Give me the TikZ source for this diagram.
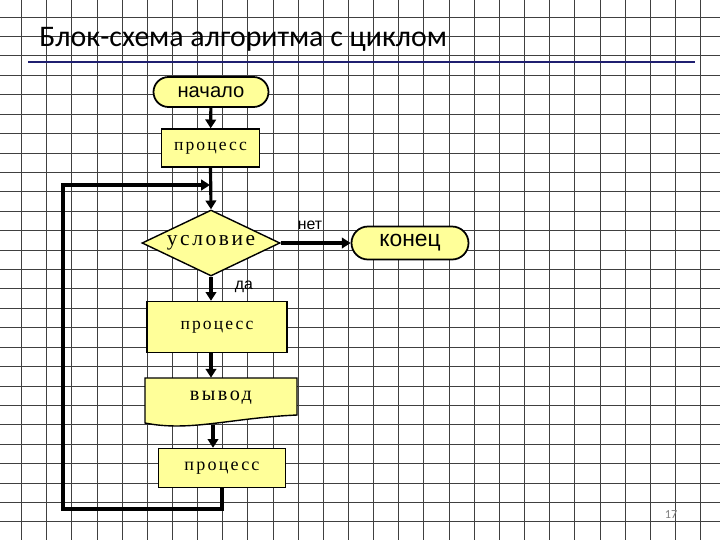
\documentclass[tikz,border=0pt]{standalone}
\usepackage{fontspec}
\setmainfont{Liberation Sans}
\newfontfamily\titlefont{Carlito}
\newfontfamily\courfont[LetterSpace=12]{Liberation Serif}
\usetikzlibrary{shapes.geometric,arrows.meta,positioning,calc}
\definecolor{BoxYellow}{HTML}{FFFF99}
\definecolor{TitleNavy}{HTML}{1F1F70}
\definecolor{GridGray}{HTML}{404040}

\begin{document}
\begin{tikzpicture}[
    x=0.2mm, y=-0.2mm,
    gridline/.style={draw=GridGray, line width=0.5pt},
    flow/.style={line width=1.8pt, -{Triangle[length=5pt,width=6pt]}},
    termbox/.style={draw, fill=BoxYellow, line width=1pt, inner sep=0pt, rounded corners=3mm, font=\fontsize{11.5}{13}\selectfont},
    procbox/.style={draw, fill=BoxYellow, line width=0.8pt, inner sep=0pt, font=\courfont\fontsize{10}{12}\selectfont},
    condbox/.style={draw, diamond, shape aspect=2.1, fill=BoxYellow, line width=0.8pt, inner sep=0pt, font=\courfont\fontsize{12.2}{14}\selectfont},
    edgelabel/.style={font=\fontsize{9}{11}\selectfont}
]

  \useasboundingbox (0,0) rectangle (720,540);

  % Клетчатый фон
  \foreach \gx in {0,...,27} {
    \draw[gridline] ({21.5+25.15*\gx},0) -- ++(0,540);
  }
  \foreach \gy in {0,...,26} {
    \draw[gridline] (0,{17+19.42*\gy}) -- ++(720,0);
  }

  % Заголовок
  \node[anchor=base west, inner sep=0pt, font=\titlefont\fontsize{17}{20}\selectfont] (title) at (39,46) {Блок-схема алгоритма с циклом};
  \draw[TitleNavy, line width=1.5pt] (28,62) -- (695,62);

  % =========================================================================
  % БЛОКИ
  % =========================================================================
  \node[termbox, minimum width=23mm, minimum height=6mm] (start) at (211,92) {начало};
  \node[procbox, minimum width=19.6mm, minimum height=7.6mm] (proc1) at (210.5,148) {процесс};
  \node[condbox, minimum width=27.6mm, minimum height=13.2mm] (cond) at (211,243) {условие};
  \node[termbox, rounded corners=3.3mm, minimum width=23.4mm, minimum height=6.6mm, font=\fontsize{13}{15}\selectfont] (stop) at (410,243) {конец};
  \node[procbox, minimum width=28mm, minimum height=10.2mm] (proc2) at (217,327) {процесс};

  % блок вывода (документ)
  \filldraw[fill=BoxYellow, line width=0.8pt] (145,378) -- (297,378) -- (297,415) .. controls (230,418) and (190,432) .. (145,423) -- cycle;
  \node[inner sep=0pt, minimum width=30.4mm, minimum height=8mm, font=\courfont\fontsize{11.5}{14}\selectfont] (output) at (221,398) {вывод};
  \coordinate (outbot) at (213,425);

  \node[procbox, minimum width=25.4mm, minimum height=7.8mm, font=\courfont\fontsize{10.3}{12}\selectfont] (proc3) at (222,468) {процесс};

  % =========================================================================
  % СВЯЗИ
  % =========================================================================
  \coordinate (merge) at (210,185);
  \coordinate (loopbl) at (63,509);

  \draw[flow] (start) -- (proc1);
  \draw[flow] (proc1.south) -- (cond.north);
  \draw[flow] (cond.east) -- (stop.west);
  \draw[flow] (cond.south) -- (proc2.north -| cond.south);
  \draw[flow] (proc2.south -| cond.south) -- (output.north -| cond.south);
  \draw[flow] (outbot) -- (proc3.north -| outbot);
  \draw[flow] (proc3.south) |- (loopbl) |- (merge);

  \node[edgelabel] (nolabel) at (310,225) {нет};
  \node[edgelabel] (yeslabel) at (244,287) {да};

  % номер слайда
  \node[text=gray, font=\titlefont\fontsize{7}{8}\selectfont] (pagenum) at (671,515) {17};

\end{tikzpicture}
\end{document}
